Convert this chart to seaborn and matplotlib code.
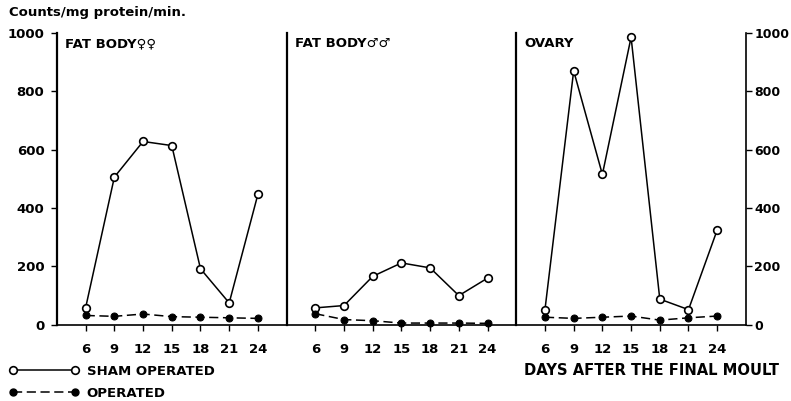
import matplotlib
matplotlib.use('Agg')
import matplotlib.pyplot as plt
from matplotlib.lines import Line2D
import pandas as pd
import seaborn as sns

# Days after the final moult
days = [6, 9, 12, 15, 18, 21, 24]

# Counts / mg protein / min.
fat_female_sham = [59, 506, 628, 614, 192, 75, 447]
fat_female_oper = [32, 29, 37, 28, 26, 24, 22]
fat_male_sham = [58, 66, 166, 212, 195, 100, 160]
fat_male_oper = [38, 18, 14, 6, 6, 6, 5]
ovary_sham = [52, 870, 515, 985, 88, 52, 325]
ovary_oper = [26, 22, 26, 30, 16, 24, 30]

panels = ['FAT BODY\u2640\u2640', 'FAT BODY\u2642\u2642', 'OVARY']
sham = [fat_female_sham, fat_male_sham, ovary_sham]
oper = [fat_female_oper, fat_male_oper, ovary_oper]

rows = []
for p, s, o in zip(panels, sham, oper):
    for d, vs, vo in zip(days, s, o):
        rows.append({'tissue': p, 'day': d, 'treatment': 'SHAM OPERATED', 'value': vs})
        rows.append({'tissue': p, 'day': d, 'treatment': 'OPERATED', 'value': vo})
df = pd.DataFrame(rows)

sns.set_style('white')
plt.rcParams['font.family'] = ['DejaVu Sans']
plt.rcParams['font.weight'] = 'bold'
plt.rcParams['text.color'] = 'black'
plt.rcParams['xtick.color'] = 'black'
plt.rcParams['ytick.color'] = 'black'

dash = (0, (6, 3))

fig, axes = plt.subplots(1, 3, figsize=(7.91, 4.01), dpi=100, sharey=True)
fig.subplots_adjust(left=0.072, right=0.943, bottom=0.19, top=0.918, wspace=0)

for i, (ax, p) in enumerate(zip(axes, panels)):
    sub = df[df.tissue == p]
    sns.lineplot(data=sub[sub.treatment == 'SHAM OPERATED'], x='day', y='value', ax=ax,
                 color='black', lw=1.1, marker='o', markersize=5.5,
                 markerfacecolor='white', markeredgecolor='black', markeredgewidth=1.2,
                 clip_on=False)
    sns.lineplot(data=sub[sub.treatment == 'OPERATED'], x='day', y='value', ax=ax,
                 color='black', lw=1.1, linestyle=dash, marker='o', markersize=5,
                 markerfacecolor='black', markeredgecolor='black', clip_on=False)
    ax.set_xlim(3, 27)
    ax.set_ylim(0, 1000)
    ax.set_xticks(days)
    ax.set_xlabel('')
    ax.set_ylabel('')
    for side in ['top', 'right']:
        ax.spines[side].set_visible(False)
    ax.spines['left'].set_linewidth(1.6)
    ax.spines['bottom'].set_linewidth(1.2)
    ax.spines['left'].set_color('black')
    ax.spines['bottom'].set_color('black')
    ax.tick_params(axis='x', direction='out', length=4, width=1, bottom=True,
                   labelsize=9.5, pad=9, color='black', labelcolor='black')
    ax.text(0.035, 0.985, p, transform=ax.transAxes, fontsize=9.5, fontweight='bold',
            va='top', ha='left', color='black')
    if i == 0:
        ax.set_yticks([0, 200, 400, 600, 800, 1000])
        ax.tick_params(axis='y', direction='out', length=4, width=1, left=True,
                       labelsize=9.5, pad=5, color='black', labelcolor='black')
    else:
        ax.tick_params(axis='y', left=False, labelleft=False)

# right-hand scale on the ovary panel
axr = axes[2]
axr.spines['right'].set_visible(True)
axr.spines['right'].set_linewidth(1.2)
axr.spines['right'].set_color('black')
axr.tick_params(axis='y', right=True, labelright=True, direction='out', length=4,
                width=1, labelsize=9, pad=2, color='black', labelcolor='black')

fig.text(0.012, 0.985, 'Counts/mg protein/min.', fontsize=9.5, fontweight='bold',
         va='top', ha='left', color='black')
fig.text(0.662, 0.077, 'DAYS AFTER THE FINAL MOULT', fontsize=10.6, fontweight='bold',
         va='center', ha='left', color='black')

handles = [
    Line2D([], [], color='black', lw=1.1, marker='o', markersize=5.5,
           markerfacecolor='white', markeredgecolor='black', markeredgewidth=1.2),
    Line2D([], [], color='black', lw=1.1, linestyle=dash, marker='o',
           markersize=5, markerfacecolor='black'),
]
leg = fig.legend(handles, ['SHAM OPERATED', 'OPERATED'], loc='upper left',
                 bbox_to_anchor=(-0.004, 0.12), frameon=False, numpoints=2,
                 handlelength=5.3, handletextpad=0.6, labelspacing=0.7,
                 prop={'size': 9.5, 'weight': 'bold'})
for t in leg.get_texts():
    t.set_color('black')

fig.savefig('out.png', dpi=100, facecolor='white')
